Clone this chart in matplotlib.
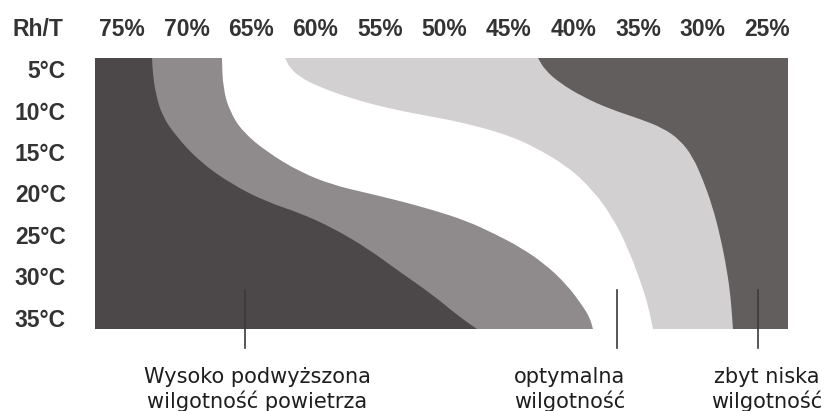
import matplotlib
matplotlib.use("Agg")
import matplotlib.pyplot as plt
from matplotlib.path import Path
from matplotlib.patches import PathPatch

# ---- data ----
humidity_ticks = [75, 70, 65, 60, 55, 50, 45, 40, 35, 30, 25]
humidity_labels = ["75%", "70%", "65%", "60%", "55%", "50%", "45%", "40%", "35%", "30%", "25%"]
temp_ticks = [5, 10, 15, 20, 25, 30, 35]
temp_labels = ["5°C", "10°C", "15°C", "20°C", "25°C", "30°C", "35°C"]

# zone boundaries: humidity (%) and temperature (°C)
high_mid_h = [72.67, 72.60, 72.36, 71.90, 70.89, 68.95, 66.40, 63.76, 61.20, 58.64, 56.01, 53.45, 50.89, 49.03, 47.48]
high_mid_t = [3.67, 5.72, 8.13, 10.54, 12.95, 16.20, 18.98, 21.02, 22.35, 24.16, 26.57, 29.46, 32.23, 34.64, 36.33]

mid_opt_h = [67.25, 67.17, 66.63, 65.62, 63.76, 61.20, 58.64, 56.01, 53.45, 50.89, 48.26, 46.09, 44.15, 42.21, 40.50, 39.34, 38.72, 38.49]
mid_opt_t = [3.67, 7.29, 10.18, 12.59, 15.00, 17.41, 18.98, 19.94, 20.90, 21.99, 23.31, 24.88, 26.45, 28.49, 31.02, 33.43, 35.00, 36.33]

opt_low_h = [62.36, 61.98, 61.20, 59.88, 57.33, 54.77, 52.13, 49.57, 47.25, 45.16, 43.14, 40.50, 38.49, 36.94, 35.78, 34.84, 34.22, 33.84]
opt_low_t = [3.67, 4.88, 5.96, 7.05, 8.49, 9.58, 10.42, 11.14, 11.99, 12.95, 14.28, 16.69, 19.58, 22.95, 26.57, 30.42, 33.43, 36.33]

low_dry_h = [42.75, 42.21, 41.05, 39.26, 37.17, 34.84, 33.06, 31.74, 30.74, 29.96, 29.26, 28.64, 28.10, 27.79, 27.64]
low_dry_t = [3.67, 5.12, 6.69, 8.37, 9.82, 11.02, 12.11, 13.55, 15.60, 18.37, 21.39, 25.00, 29.22, 32.83, 36.33]

zone_labels = ["Wysoko podwyższona\nwilgotność powietrza", "optymalna\nwilgotność", "zbyt niska\nwilgotność"]
zone_marker_x = [65.5, 36.6, 25.7]
zone_text_x = [64.5, 40.3, 25.0]

# ---- styling ----
C_HIGH = "#4c4748"
C_MID = "#8f8b8c"
C_OPT = "#ffffff"
C_LOW = "#d3d0d1"
C_DRY = "#635e5e"
TXT = "#333333"

W, H = 829, 411
fig = plt.figure(figsize=(W / 100, H / 100), dpi=100)
ax = fig.add_axes([95 / W, 1 - 329 / H, (788 - 95) / W, (329 - 58) / H])
XL, XR = 77.09, 23.37
YT, YB = 3.67, 36.33
ax.set_xlim(XL, XR)
ax.set_ylim(YB, YT)
ax.set_facecolor(C_DRY)
for s in ax.spines.values():
    s.set_visible(False)


def zone_patch(hs, ts, color):
    pts = list(zip(hs, ts))
    verts = [(hs[0], YT - 1.0), pts[0], ((pts[0][0] + pts[1][0]) / 2, (pts[0][1] + pts[1][1]) / 2)]
    codes = [Path.MOVETO, Path.LINETO, Path.LINETO]
    for i in range(1, len(pts) - 1):
        mid = ((pts[i][0] + pts[i + 1][0]) / 2, (pts[i][1] + pts[i + 1][1]) / 2)
        verts += [pts[i], mid]
        codes += [Path.CURVE3, Path.CURVE3]
    verts += [pts[-1], (hs[-1], YB + 1.0), (XL + 2, YB + 1.0), (XL + 2, YT - 1.0), (hs[0], YT - 1.0)]
    codes += [Path.LINETO, Path.LINETO, Path.LINETO, Path.LINETO, Path.CLOSEPOLY]
    ax.add_patch(PathPatch(Path(verts, codes), facecolor=color, edgecolor="none", antialiased=True))


zone_patch(low_dry_h, low_dry_t, C_LOW)
zone_patch(opt_low_h, opt_low_t, C_OPT)
zone_patch(mid_opt_h, mid_opt_t, C_MID)
zone_patch(high_mid_h, high_mid_t, C_HIGH)

tick_font = dict(family="Liberation Sans", weight="bold", size=16.5)
ax.set_xticks(humidity_ticks)
ax.set_xticklabels(humidity_labels, color=TXT, **tick_font)
ax.set_yticks(temp_ticks)
ax.set_yticklabels(temp_labels, color=TXT, **tick_font)
ax.tick_params(axis="x", top=True, labeltop=True, bottom=False, labelbottom=False, length=0, pad=12)
ax.tick_params(axis="y", left=True, length=0, pad=21)

ax.annotate("Rh/T", xy=(0, 1), xycoords="axes fraction", xytext=(-23, 12),
            textcoords="offset points", ha="right", va="bottom", color=TXT, **tick_font)

# zone markers and labels
for mx in zone_marker_x:
    ax.plot([mx, mx], [31.6, 38.6], color="#3a3a3a", lw=1.2, clip_on=False)
for tx, lab in zip(zone_text_x, zone_labels):
    ax.text(tx, 40.9, lab, ha="center", va="top", fontsize=15, family="DejaVu Sans",
            color="#1e1e1e", linespacing=1.2, clip_on=False)

fig.savefig("out.png", dpi=100)
